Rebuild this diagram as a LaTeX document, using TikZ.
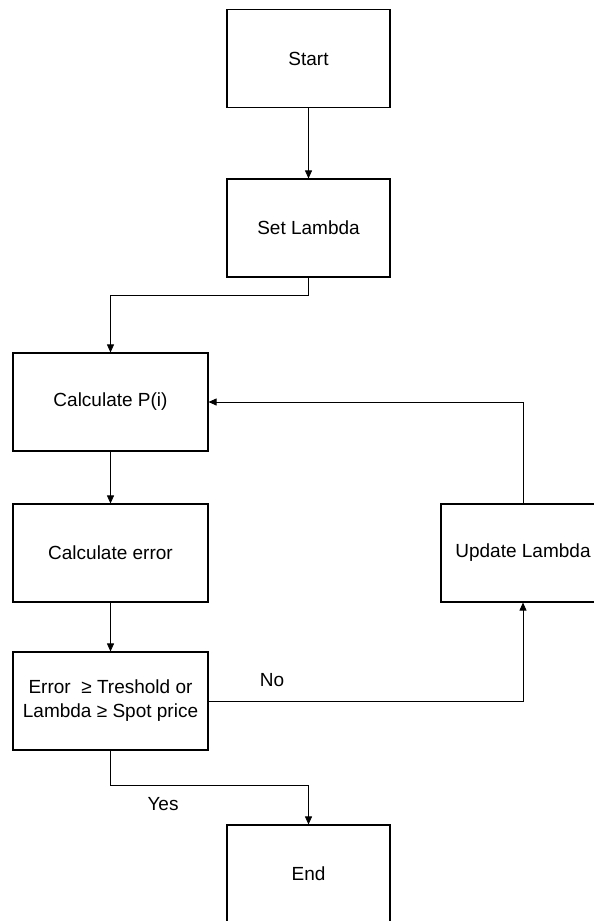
\documentclass[tikz,border=0pt]{standalone}
\usepackage{fontspec}
\setmainfont{Liberation Sans}
\usetikzlibrary{arrows.meta}
\begin{document}
\begin{tikzpicture}[x=1pt,y=-1pt,
  font=\fontsize{19}{24}\selectfont,
  box/.style={draw=black, line width=1.1pt, inner sep=0pt, align=center,
    minimum height=98pt},
  narrow/.style={box, minimum width=163pt},
  wide/.style={box, minimum width=195pt},
  arr/.style={draw=black, line width=0.8pt, -{Triangle[length=8pt,width=7pt]}},
  lbl/.style={inner sep=0pt}]
  \useasboundingbox (0,0) rectangle (594,921);
  \clip (0,0) rectangle (594,921);

  % process boxes
  \node[narrow] (start) at (308.5,58.5) {Start};
  \node[narrow] (setl)  at (308.5,228)  {Set Lambda};
  \node[wide]   (calcp) at (110.5,402)  {Calculate P(i)};
  \node[wide]   (calce) at (110.5,553)  {Calculate error};
  \node[wide]   (cond)  at (110.5,701)  {Error\ \ ≥ Treshold or\\Lambda ≥ Spot price};
  \node[box, minimum width=164pt] (upd) at (523,553) {Update Lambda};
  \node[narrow] (endb)  at (308.5,874)  {End};

  % flow
  \draw[arr] (start.south) -- (setl.north);
  \draw[arr] (setl.south) -- ++(0,18) -| (calcp.north);
  \draw[arr] (calcp.south) -- (calce.north);
  \draw[arr] (calce.south) -- (cond.north);
  \draw[arr] (cond.east) -| (upd.south);
  \draw[arr] (upd.north) |- (calcp.east);
  \draw[arr] (cond.south) -- ++(0,35) -| (endb.north);

  % branch labels
  \node[lbl] (no)  at (272,680.5) {No};
  \node[lbl] (yes) at (163,804)   {Yes};
\end{tikzpicture}
\end{document}
